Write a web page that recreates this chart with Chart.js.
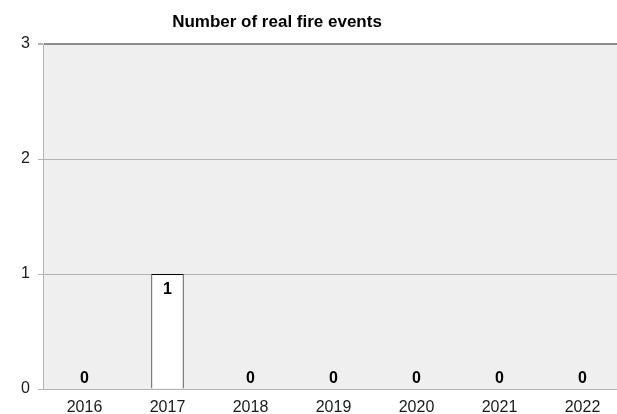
<!DOCTYPE html>
<html>
<head>
<meta charset="utf-8">
<script src="https://cdn.jsdelivr.net/npm/chart.js@4"></script>
<style>
  html, body { margin: 0; padding: 0; background: #fff; overflow: hidden; }
  #wrap { width: 624px; height: 414px; }
</style>
</head>
<body>
<div id="wrap"><canvas id="myChart"></canvas></div>
<script>
var years = ["2016", "2017", "2018", "2019", "2020", "2021", "2022"];
var fireEvents = [0, 1, 0, 0, 0, 0, 0];
var yTicks = [0, 1, 2, 3];
var chartTitle = "Number of real fire events";

var plotBg = {
  id: "plotBg",
  beforeDraw: function (chart) {
    var a = chart.chartArea, ctx = chart.ctx;
    ctx.save();
    ctx.fillStyle = "#efefef";
    ctx.fillRect(a.left, a.top, a.right - a.left, a.bottom - a.top);
    ctx.restore();
  }
};

var labelsAndTitle = {
  id: "labelsAndTitle",
  afterDraw: function (chart) {
    var ctx = chart.ctx;
    ctx.save();
    ctx.fillStyle = "#000";
    ctx.font = "bold 17px 'Liberation Sans', Arial, sans-serif";
    ctx.textAlign = "center";
    ctx.textBaseline = "middle";
    ctx.fillText(chartTitle, 277, 22);

    ctx.font = "bold 16px 'Liberation Sans', Arial, sans-serif";
    var meta = chart.getDatasetMeta(0);
    meta.data.forEach(function (bar, i) {
      var v = fireEvents[i];
      var y = v > 0 ? bar.y + 16 : bar.y - 10;
      ctx.fillText(String(v), bar.x, y);
    });
    ctx.restore();
  }
};

var ctx = document.getElementById("myChart").getContext("2d");
var chart = new Chart(ctx, {
  type: "bar",
  data: {
    labels: years,
    datasets: [{
      data: fireEvents,
      backgroundColor: "#ffffff",
      borderColor: "#000000",
      borderWidth: function (c) { return c.raw > 0 ? 1 : 0; },
      borderSkipped: "bottom",
      barPercentage: 0.39,
      categoryPercentage: 1
    }]
  },
  options: {
    responsive: true,
    maintainAspectRatio: false,
    animation: false,
    layout: { padding: { top: 44, right: 0, left: 0, bottom: 0 } },
    plugins: {
      legend: { display: false },
      title: { display: false },
      tooltip: { enabled: false }
    },
    scales: {
      x: {
        grid: { display: false, drawTicks: false },
        border: { display: false },
        ticks: {
          color: "#1a1a1a",
          padding: 9,
          maxRotation: 0,
          font: { family: "'Liberation Sans', Arial, sans-serif", size: 16 }
        },
        afterFit: function (s) { s.height = 25; }
      },
      y: {
        min: 0,
        max: 3,
        afterBuildTicks: function (s) { s.ticks = yTicks.map(function (v) { return { value: v }; }); },
        grid: {
          color: function (c) { return c.tick && c.tick.value === 3 ? "#8c8c8c" : "#b4b4b4"; },
          lineWidth: function (c) { return c.tick && c.tick.value === 3 ? 2 : 1; },
          tickLength: 5,
          tickColor: "#b4b4b4"
        },
        border: { display: true, color: "#b4b4b4", width: 1 },
        ticks: {
          color: "#1a1a1a",
          padding: 8,
          font: { family: "'Liberation Sans', Arial, sans-serif", size: 16 }
        },
        afterFit: function (s) { s.width = 43; }
      }
    }
  },
  plugins: [plotBg, labelsAndTitle]
});
</script>
</body>
</html>
